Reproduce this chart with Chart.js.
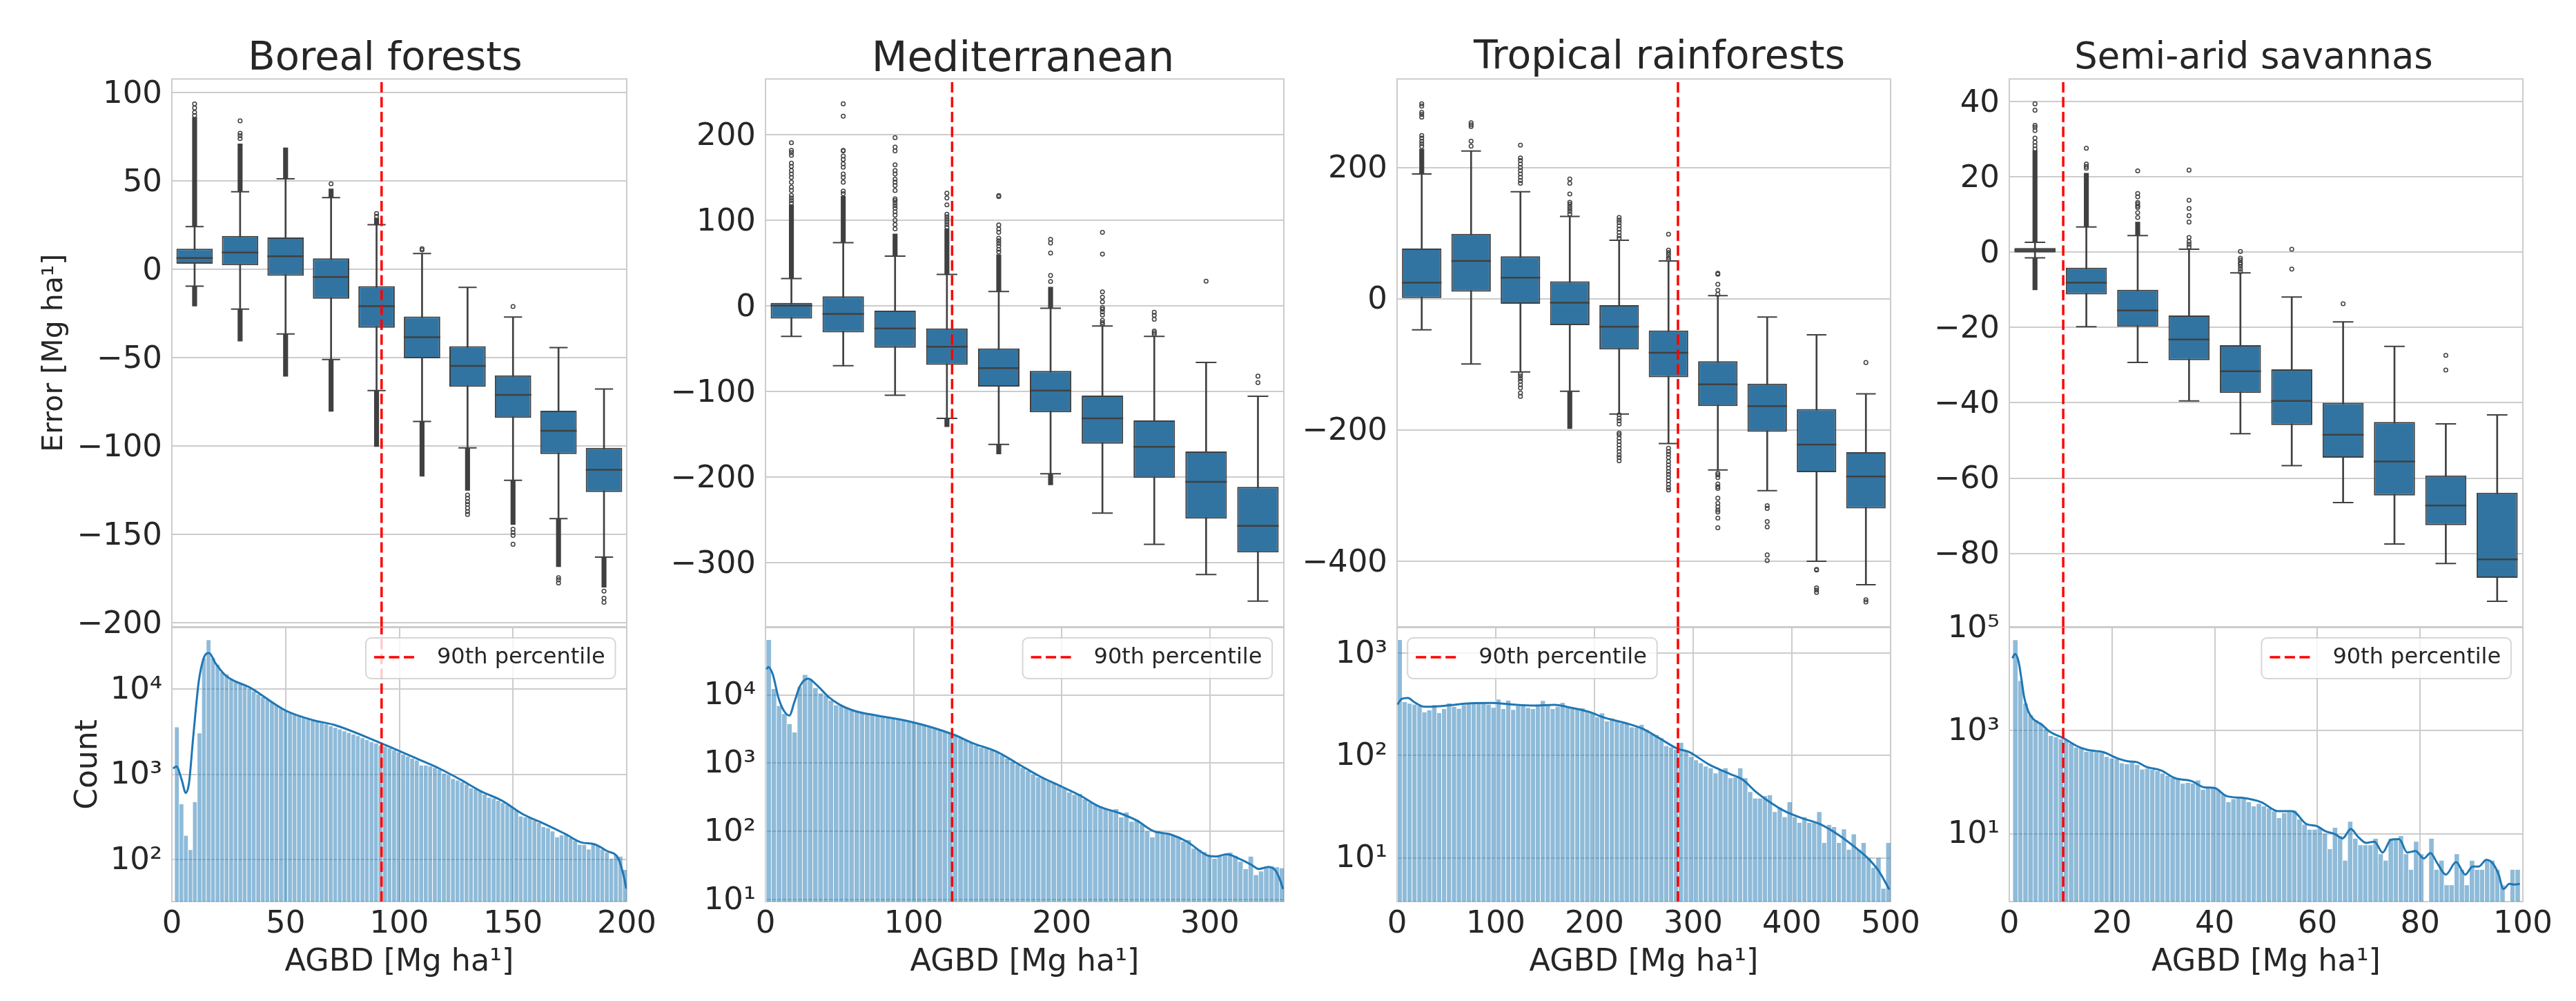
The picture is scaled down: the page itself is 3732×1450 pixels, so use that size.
<!DOCTYPE html>
<html>
<head>
<meta charset="utf-8">
<title>AGBD error by biome</title>
<script src="https://cdn.jsdelivr.net/npm/chart.js@4"></script>
<style>
  html, body { margin: 0; padding: 0; background: #fff; }
  body { position: relative; width: 3732px; height: 1450px; overflow: hidden; }
  canvas { position: absolute; }
  .panel-title { position: absolute; transform: translateX(-50%); white-space: nowrap; line-height: 1; font-family: "DejaVu Sans"; color: #262626; }
</style>
</head>
<body>
<script>
const biomes = ['Boreal forests', 'Mediterranean', 'Tropical rainforests', 'Semi-arid savannas'];
const boxLabels = ['b0', 'b1', 'b2', 'b3', 'b4', 'b5', 'b6', 'b7', 'b8', 'b9'];
const percentile90 = [92.2, 126, 284.6, 10.5];
const agbdMax = [200, 350, 500, 100];

// box statistics
const borealLow = [-9.5, -22.5, -36.5, -51, -68.6, -86, -101, -119.3, -141, -162.8];
const borealQ1 = [3.2, 2.3, -3.6, -16.6, -33, -50.3, -66.4, -84, -104.5, -126];
const borealMedian = [6.4, 9.5, 7.4, -4.3, -20.8, -38.4, -54.6, -71, -91.3, -113.4];
const borealQ3 = [11.7, 18.9, 18, 6.2, -9.5, -26.7, -43.5, -60, -80, -101];
const borealHigh = [24.2, 43.9, 51.2, 40.6, 25.3, 9, -10.2, -27, -44.2, -67.7];
const borealDenseUp = [[24.2, 86], [44, 71], [51.2, 68.8], [40.6, 45.5], [25.3, 28.8], null, null, null, null, null];
const borealDenseDown = [[-20.8, -9.5], [-40.6, -22.5], [-60.5, -36.5], [-80.3, -51], [-100.2, -68.6], [-117, -86], [-125, -101], [-144.4, -119.3], [-168.2, -141], [-179.8, -162.8]];
const borealOutliers = [
  [93.6, 91.3, 88.8, 87],
  [84, 77, 75.6, 74],
  [],
  [48.4],
  [31.6, 30],
  [11.7, 11],
  [-127.6, -129.5, -131.4, -133, -135, -137, -138.6],
  [-21, -147, -148.8, -150.5, -155.5],
  [-174.4, -175.6, -177.4],
  [-182, -186, -188.3]
];

const medLow = [-35.5, -69.9, -104.3, -131.3, -161.7, -196, -241.8, -278.3, -313.7, -344.7];
const medQ1 = [-14.8, -30.9, -48.8, -68.8, -94.1, -124.2, -160.9, -200.8, -248.4, -287.8];
const medMedian = [0.4, -9.4, -26.2, -47.7, -72.7, -98.8, -131.3, -164.5, -205.5, -256.8];
const medQ3 = [3.5, 11.3, -5.5, -26.2, -49.6, -75.8, -104.7, -133.6, -170, -211.3];
const medHigh = [32, 73.8, 58.2, 36.7, 16.8, -2.7, -23.4, -35.5, -66, -105.5];
const medDenseUp = [[32, 118], [74, 128], [58, 84], [37, 90], [17, 60], [-2.7, 22], null, null, null, null];
const medDenseDown = [null, null, null, [-141, -131], [-173, -162], [-209, -196], null, null, null, null];
const medOutliers = [
  [190.6, 181.6, 179, 175.8, 166.8, 163, 158, 154, 150, 144.5, 138.7, 134.8, 129, 126, 123, 120],
  [236, 221.5, 181.6, 181, 175, 171, 166, 162, 154, 150, 144.5, 134, 131],
  [196.5, 185.5, 181, 164.8, 158, 154, 148, 144.5, 140.6, 134.8, 125, 123, 120, 117, 114, 110, 106, 100, 95, 90],
  [131.6, 126, 118, 107, 104, 101, 98, 95, 92],
  [128.9, 127.7, 94.5, 89.8, 85.9, 79, 76, 73, 70, 66, 63],
  [77.7, 73.4, 61.7, 35.5, 28.5],
  [85.9, 60.5, 16.4, 10.2, 4.7, -2, -3.9, -7, -10.5, -16.8, -19.5, -21.5],
  [-7.4, -10.9, -15.6, -29.3, -31.3, -33.2],
  [28.9],
  [-82, -89.5]
];

const tropLow = [-47.4, -99.4, -111.6, -141, -175.8, -220.6, -260.9, -292.5, -400, -435.8];
const tropQ1 = [0, 10.7, -7.6, -40.3, -77.5, -119.7, -163.6, -202.8, -264.5, -319.5];
const tropMedian = [24.5, 57.6, 32, -6.1, -42.8, -82.5, -130.4, -163.6, -222.2, -271];
const tropQ3 = [76.4, 98.9, 64.7, 26.5, -9.7, -48.4, -95.3, -129.4, -168, -233.9];
const tropHigh = [190, 225, 163, 125.4, 89.2, 57.6, 4.6, -28, -55, -145];
const tropDenseUp = [[190, 228], null, null, null, null, null, null, null, null, null];
const tropDenseDown = [null, null, null, [-198, -141], null, null, null, null, null, null];
const tropOutliers = [
  [297, 293.5, 284, 280.8, 276.7, 248.7, 244.6, 240, 236, 232],
  [268, 265, 262.4, 240, 232.4],
  [234, 214.5, 210.4, 205, 200, 195, 190, 185, 180, 175.8, -114.6, -118, -121.8, -125.9, -131, -136, -143.7, -148.8],
  [182.4, 175.8, 159.5, 147, 144, 140, 136.6, 133, 129],
  [123.8, 119.7, 116, 111, 106, 101, 95.8, 92, -176.8, -182, -186, -191, -204.8, -207.4, -212.5, -217.6, -222.7, -227.8, -232.9, -238, -242, -247],
  [98.3, 73.9, 70.3, 66.8, 62.7, 59.6, -227.8, -232.9, -237, -242, -248, -253, -258, -263.4, -267.5, -272.6, -277.7, -282.8, -287.9, -291.5],
  [38.7, 37.2, 21.9, 12.7, 6.6, -266, -268.5, -272.6, -282.3, -286.4, -289, -304, -311.8, -317, -322, -325, -334.4, -349],
  [-315.4, -319.5, -339.7, -347.8, -390.5, -399],
  [-412.4, -413.5, -440.6, -444, -447.7],
  [-97.3, -458.7, -462]
];

const savLow = [-1.5, -19.8, -29.3, -39.5, -48.2, -56.7, -66.5, -77.5, -82.7, -92.7];
const savQ1 = [-0.1, -11.2, -19.8, -28.7, -37.4, -45.9, -54.6, -64.6, -72.5, -86.5];
const savMedian = [0.5, -8.1, -15.5, -23.2, -31.6, -39.5, -48.5, -55.6, -67.3, -81.6];
const savQ3 = [1.1, -4.1, -10, -16.8, -24.7, -31.1, -40, -45.1, -59.3, -63.9];
const savHigh = [2.6, 6.7, 4.4, 0.8, -5.5, -11.9, -18.5, -25, -45.6, -43.2];
const savDenseUp = [[2.6, 27], [6.7, 21], [4.4, 8], null, null, null, null, null, null, null];
const savDenseDown = [[-10, -1.5], null, null, null, null, null, null, null, null, null];
const savOutliers = [
  [39.4, 37.7, 33.7, 33.2, 32.3, 30.3, 29.2, 28.3, 27.4],
  [27.6, 23.4, 22.8, 22.3],
  [21.6, 15.6, 14.7, 13.2, 12.8, 12.3, 11.9, 10.5, 9.2],
  [21.8, 13.8, 11.6, 9.7, 8, 3.9, 2.8, 2.1, 1.4],
  [0.2, -1.6, -2.1, -2.8, -3.2, -3.8, -4.5, -5.2],
  [0.8, -4.5],
  [-13.7],
  [],
  [-27.4, -31.3],
  []
];

// histogram counts per bin, lower panels
const borealCounts = [3580, 445, 190, 129, 472, 3030, 23200, 37800, 23200, 19500,
  15800, 14900, 13300, 12500, 11500, 10800, 10100, 9430, 8730, 8090,
  7560, 7060, 6490, 5960, 5570, 5250, 5030, 4820, 4620, 4430,
  4280, 4140, 4000, 3870, 3670, 3520, 3380, 3210, 3080, 2950,
  2810, 2660, 2530, 2400, 2310, 2190, 2120, 2030, 1930, 1820,
  1710, 1620, 1530, 1460, 1270, 1270, 1240, 1190, 1140, 1020,
  980, 885, 848, 805, 759, 685, 668, 630, 578, 532,
  519, 489, 460, 437, 412, 378, 320, 312, 306, 286,
  268, 241, 233, 214, 181, 192, 200, 178, 166, 149,
  148, 131, 149, 143, 131, 121, 102, 113, 108, 75.5];
const medCounts = [63500, 12200, 6900, 5250, 3740, 2820, 13000, 19700, 16800, 12600,
  10500, 9690, 8270, 7060, 6900, 6490, 6030, 5720, 5420, 5250,
  5140, 5030, 4820, 4720, 4530, 4390, 4250, 4070, 3950, 3830,
  3550, 3370, 3230, 3100, 2880, 2730, 2560, 2330, 2160, 1990,
  1820, 1690, 1640, 1540, 1450, 1300, 1170, 1050, 949, 853,
  767, 690, 622, 603, 548, 514, 462, 429, 374, 345,
  355, 297, 267, 245, 233, 212, 205, 212, 161, 190,
  139, 149, 127, 101, 82, 101, 93, 91, 88, 82,
  71, 75, 56, 54, 50, 43, 40, 44, 45, 49,
  44, 36, 28, 43, 23, 26, 30, 31, 30, 29];
const tropCounts = [1345, 333, 321, 315, 306, 265, 277, 311, 260, 285,
  324, 299, 287, 311, 319, 321, 321, 321, 315, 293,
  352, 285, 345, 279, 306, 306, 293, 285, 315, 342,
  315, 285, 299, 328, 293, 285, 285, 289, 269, 260,
  237, 258, 215, 231, 215, 206, 203, 189, 187, 200,
  179, 162, 159, 148, 124, 120, 114, 133, 111, 97,
  90, 84, 78, 75, 67, 72, 75, 60, 61, 75,
  60, 44, 38, 38, 40, 41, 28, 31, 25, 35,
  25, 22, 25, 22, 22, 28, 14, 21, 20, 14,
  19, 12, 17, 12, 14, 10, 8, 10, 5, 14];
const savCounts = [57100, 9260, 3380, 1990, 1590, 1340, 1090, 789, 745, 685,
  648, 563, 470, 470, 392, 392, 381, 370, 309, 288,
  280, 233, 224, 240, 217, 176, 184, 174, 164, 147,
  133, 121, 111, 94, 97, 94, 108, 71, 79, 79,
  71, 58, 41, 47, 48, 49, 41, 34, 38, 34,
  31, 27, 20, 25, 26, 28, 19, 15, 12, 12,
  13, 10, 5, 13, 9, 3, 17, 8, 6, 6,
  6, 8, 4, 3, 8, 8, 9, 4, 2, 7,
  4, null, 8, 2, 3, 1, 1, 4, 2, 1,
  3, 2, 2, 3, 3, 2, 1, null, 2, 2];
const binStart = [1.1, 0.3, 0, 0.64];
const binWidth = [1.99, 3.5, 5, 0.988];

// density curves, sampled by eye along the drawn line
const borealKdeX = [0.55, 2, 4.4, 6.1, 7.5, 9.4, 11.8, 14, 16.4, 19.1, 23.7, 34.8, 50, 62.4, 71.6, 92.2, 108.4, 117.6, 126.8, 136, 145.2, 154.4, 163.6, 172.8, 180.1, 185.6, 191.2, 196.3, 198.5, 199.8];
const borealKdeY = [1170, 1240, 848, 604, 778, 2780, 12200, 23200, 26700, 20400, 14500, 10300, 5620, 4310, 3800, 2310, 1500, 1170, 869, 630, 489, 339, 263, 200, 158, 151, 126, 102, 66.5, 45.4];
const medKdeX = [0.6, 2, 4.8, 9, 12.7, 16.1, 19.5, 23.2, 28.8, 34.5, 42.9, 50, 61.3, 75.4, 100, 126, 140.4, 155.9, 171.5, 185.6, 200, 212.4, 225.1, 239.3, 250.6, 262, 273.2, 284.5, 298.6, 304.2, 311.3, 319.8, 328.3, 333.1, 339.6, 344.4, 347.2, 349.5];
const medKdeY = [23800, 25600, 20300, 8710, 5720, 4980, 7830, 13300, 17300, 14000, 9190, 7210, 5720, 4980, 3950, 2670, 1950, 1480, 949, 635, 453, 337, 233, 185, 145, 101, 91, 71.2, 44.4, 43, 46.2, 39.9, 32.3, 28.2, 30.3, 26.7, 20.1, 14.3];
const tropKdeX = [0.4, 4.7, 11, 17.4, 28, 38.6, 53.4, 74.6, 95.8, 117, 138.3, 159.5, 176.4, 193.4, 210.3, 231.6, 248.5, 265.5, 284.6, 295.2, 316.4, 337.6, 350.3, 363, 375.7, 392.7, 409.7, 428.7, 447.8, 464.8, 477.5, 488.1, 498.7];
const tropKdeY = [315, 357, 365, 333, 299, 301, 310, 324, 326, 315, 308, 313, 293, 269, 234, 207, 183, 148, 116, 109, 81.3, 65.8, 57.9, 44.6, 36.1, 28.6, 24.5, 21.3, 16.6, 12.5, 9.8, 7.4, 4.9];
const savKdeX = [0.6, 1.1, 1.8, 2.3, 2.9, 3.7, 4.7, 6.3, 7.9, 10.5, 13.1, 15.1, 18.3, 21.1, 23.1, 24.9, 26.7, 29.5, 32.3, 35.5, 37.9, 39.9, 42.3, 45.5, 49.1, 52.3, 55.1, 57.9, 59.9, 61.5, 63.5, 64.9, 66.5, 67.9, 69.5, 71.1, 72.7, 74.3, 75.9, 77.5, 79.1, 80.7, 82, 83.4, 85, 87, 88.8, 90.2, 91.4, 92.9, 94.2, 95.3, 96.2, 97.4, 98.2, 99.4];
const savKdeY = [25400, 30800, 22000, 11000, 4400, 2350, 1660, 1310, 946, 715, 504, 425, 381, 288, 254, 243, 197, 169, 119, 105, 79.4, 77.3, 53.6, 49.3, 40.6, 27.4, 27.4, 15.2, 14, 11.2, 9.7, 8.1, 12.3, 8.7, 6.6, 7, 4.3, 7.6, 7.8, 4.3, 4.6, 3.3, 4.2, 2.6, 1.6, 2.8, 1.6, 2.3, 2.3, 3.1, 2.6, 1.6, 0.84, 1.06, 1.03, 1.06];

// tick labels and axis ranges
const errorTicks = [[100, 50, 0, -50, -100, -150, -200], [200, 100, 0, -100, -200, -300], [200, 0, -200, -400], [40, 20, 0, -20, -40, -60, -80]];
const errorMin = [-202.2, -374.7, -500, -99.5];
const errorMax = [107.7, 265, 334.8, 46];
const agbdTicks = [[0, 50, 100, 150, 200], [0, 100, 200, 300], [0, 100, 200, 300, 400, 500], [0, 20, 40, 60, 80, 100]];
const countTicks = [[100, 1000, 10000], [10, 100, 1000, 10000], [10, 100, 1000], [10, 1000, 100000]];
const countTickLabels = [['10²', '10³', '10⁴'], ['10¹', '10²', '10³', '10⁴'], ['10¹', '10²', '10³'], ['10¹', '10³', '10⁵']];
const countMin = [31.9, 9.4, 3.73, 0.48];
const countMax = [53200, 96800, 1782, 100000];

const panelStats = [
  [borealLow, borealQ1, borealMedian, borealQ3, borealHigh, borealDenseUp, borealDenseDown, borealOutliers, borealCounts, borealKdeX, borealKdeY],
  [medLow, medQ1, medMedian, medQ3, medHigh, medDenseUp, medDenseDown, medOutliers, medCounts, medKdeX, medKdeY],
  [tropLow, tropQ1, tropMedian, tropQ3, tropHigh, tropDenseUp, tropDenseDown, tropOutliers, tropCounts, tropKdeX, tropKdeY],
  [savLow, savQ1, savMedian, savQ3, savHigh, savDenseUp, savDenseDown, savOutliers, savCounts, savKdeX, savKdeY]
];

// page layout, in screen pixels
const plotLeft = [249, 1109.4, 2023.6, 2910.6];
const plotRight = [907.6, 1860, 2738, 3654];
const plotTop = 114.4;
const plotSplit = 908.5;
const plotBottom = 1305;
const titleCentre = [558, 1482, 2404, 3265];
const titleSize = [57.5, 60, 56.8, 52.7];
const titleBaseline = [101.8, 102.8, 99.4, 99.4];
const legendLeft = [530, 1482, 2038.8, 3276];

const INK = '#262626';
const GRID = '#cccccc';
const BOX_BLUE = '#3274a1';
const BOX_LINE = '#404040';
const TICK_SIZE = 45;

Chart.defaults.font.family = '"DejaVu Sans"';
Chart.defaults.color = INK;
Chart.defaults.animation = false;

// the four spines, Chart.js only strokes the axis side
const framePlugin = {
  id: 'frame',
  beforeDatasetsDraw(chart) {
    const { ctx, chartArea: a } = chart;
    ctx.save();
    ctx.strokeStyle = GRID;
    ctx.lineWidth = 2;
    ctx.strokeRect(a.left, a.top, a.right - a.left, a.bottom - a.top);
    ctx.restore();
  }
};

// legend sitting inside the axes, as the stock one cannot
const insetLegend = {
  id: 'insetLegend',
  afterDraw(chart, args, opts) {
    const { ctx, chartArea: a } = chart;
    const x = a.left + opts.offset;
    const y = a.top + 15;
    const item = chart.data.datasets[0];
    ctx.save();
    ctx.beginPath();
    ctx.roundRect(x, y, 361.5, 59, 8);
    ctx.fillStyle = 'rgba(255,255,255,0.8)';
    ctx.fill();
    ctx.strokeStyle = 'rgba(204,204,204,0.8)';
    ctx.lineWidth = 2;
    ctx.stroke();
    ctx.beginPath();
    ctx.setLineDash(item.borderDash);
    ctx.strokeStyle = item.borderColor;
    ctx.lineWidth = item.borderWidth;
    ctx.moveTo(x + 12, y + 28);
    ctx.lineTo(x + 76, y + 28);
    ctx.stroke();
    ctx.setLineDash([]);
    ctx.fillStyle = INK;
    ctx.font = '32px "DejaVu Sans"';
    ctx.textBaseline = 'middle';
    ctx.fillText(item.label, x + 103, y + 29);
    ctx.restore();
  }
};

function addCanvas(left, top, width, height) {
  const canvas = document.createElement('canvas');
  canvas.width = width;
  canvas.height = height;
  canvas.style.left = left + 'px';
  canvas.style.top = top + 'px';
  canvas.style.width = width + 'px';
  canvas.style.height = height + 'px';
  document.body.appendChild(canvas);
  return canvas;
}

function minusTick(value) {
  return String(value).replace('-', '\u2212');
}

function redLine(p, yMin, yMax) {
  return {
    type: 'line',
    label: '90th percentile',
    xAxisID: 'agbd',
    data: [{ x: percentile90[p], y: yMin }, { x: percentile90[p], y: yMax }],
    borderColor: '#ff0000',
    borderWidth: 3.5,
    borderDash: [15, 6.5],
    pointRadius: 0
  };
}

function drawBoxPanel(p) {
  const [low, q1, median, q3, high, denseUp, denseDown, outliers] = panelStats[p];
  const axisWidth = p === 0 ? plotLeft[0] : 200;
  const plotWidth = plotRight[p] - plotLeft[p];
  const boxHalf = plotWidth * 0.04;
  const canvas = addCanvas(plotLeft[p] - axisWidth, 0, Math.ceil(axisWidth + plotWidth + 60), Math.ceil(plotSplit + 40));

  const outlierPoints = [];
  outliers.forEach((values, i) => values.forEach((v) => outlierPoints.push({ x: boxLabels[i], y: v })));
  const markLine = (values, radius, width) => ({
    type: 'line',
    data: values,
    showLine: false,
    pointStyle: 'line',
    pointRadius: radius,
    pointBorderWidth: width,
    pointBorderColor: BOX_LINE
  });
  const solidBar = (values, thickness) => ({
    data: values,
    barThickness: thickness,
    backgroundColor: BOX_LINE,
    borderWidth: 0
  });

  return new Chart(canvas, {
    type: 'bar',
    data: {
      labels: boxLabels,
      datasets: [
        redLine(p, errorMin[p], errorMax[p]),
        markLine(median, boxHalf, 2.5),
        {
          data: boxLabels.map((_, i) => [q1[i], q3[i]]),
          backgroundColor: BOX_BLUE,
          borderColor: BOX_LINE,
          borderWidth: 2,
          borderSkipped: false,
          barPercentage: 0.8,
          categoryPercentage: 1
        },
        markLine(low, boxHalf / 2, 2),
        markLine(high, boxHalf / 2, 2),
        solidBar(boxLabels.map((_, i) => [low[i], high[i]]), 2),
        solidBar(denseUp, 6.5),
        solidBar(denseDown, 6.5),
        {
          type: 'line',
          data: outlierPoints,
          showLine: false,
          pointStyle: 'circle',
          pointRadius: 2.8,
          pointBorderWidth: 1.5,
          pointBorderColor: BOX_LINE,
          pointBackgroundColor: 'rgba(255,255,255,0)'
        }
      ]
    },
    options: {
      responsive: false,
      layout: { padding: { top: plotTop, bottom: canvas.height - plotSplit, right: 60, left: 0 } },
      datasets: { bar: { grouped: false } },
      plugins: { legend: { display: false }, tooltip: { enabled: false } },
      scales: {
        x: { type: 'category', display: false, offset: true },
        agbd: { type: 'linear', display: false, offset: false, min: 0, max: agbdMax[p], position: 'bottom' },
        y: {
          min: errorMin[p],
          max: errorMax[p],
          afterBuildTicks: (axis) => { axis.ticks = errorTicks[p].map((value) => ({ value })); },
          afterFit: (axis) => { axis.width = axisWidth; },
          ticks: { callback: minusTick, font: { size: TICK_SIZE }, color: INK, padding: 14, labelOffset: 3, autoSkip: false },
          grid: { color: GRID, lineWidth: 2, drawTicks: false },
          border: { display: false },
          title: { display: p === 0, text: 'Error [Mg ha¹]', font: { size: 41 }, color: INK, padding: { top: 55, bottom: 0 } }
        }
      }
    },
    plugins: [framePlugin]
  });
}

function drawHistPanel(p) {
  const stats = panelStats[p];
  const counts = stats[8];
  const axisWidth = p === 0 ? plotLeft[0] : 200;
  const plotWidth = plotRight[p] - plotLeft[p];
  const top = plotSplit - 50;
  const canvas = addCanvas(plotLeft[p] - axisWidth, top, Math.ceil(axisWidth + plotWidth + 60), Math.ceil(1450 - top));

  return new Chart(canvas, {
    type: 'bar',
    data: {
      datasets: [
        redLine(p, countMin[p], countMax[p]),
        {
          type: 'line',
          xAxisID: 'agbd',
          data: stats[9].map((x, i) => ({ x, y: stats[10][i] })),
          borderColor: '#1f77b4',
          borderWidth: 3,
          cubicInterpolationMode: 'monotone',
          pointRadius: 0
        },
        {
          xAxisID: 'agbd',
          data: counts.map((y, i) => ({ x: binStart[p] + binWidth[p] * (i + 0.5), y })),
          backgroundColor: 'rgba(31,119,180,0.5)',
          borderColor: '#ffffff',
          borderWidth: { left: 1, right: 0, top: 0, bottom: 0 },
          barPercentage: 1,
          categoryPercentage: 1
        }
      ]
    },
    options: {
      responsive: false,
      layout: { padding: { top: 50, bottom: 0, right: 60, left: 0 } },
      datasets: { bar: { grouped: false } },
      plugins: {
        legend: { display: false },
        tooltip: { enabled: false },
        insetLegend: { offset: legendLeft[p] - plotLeft[p] }
      },
      scales: {
        agbd: {
          type: 'linear',
          position: 'bottom',
          offset: false,
          min: 0,
          max: agbdMax[p],
          afterBuildTicks: (axis) => { axis.ticks = agbdTicks[p].map((value) => ({ value })); },
          afterFit: (axis) => { axis.height = 1450 - plotBottom; },
          ticks: { font: { size: TICK_SIZE }, color: INK, padding: 6, maxRotation: 0, autoSkip: false },
          grid: { color: GRID, lineWidth: 2, drawTicks: false, offset: false },
          border: { display: false },
          title: { display: true, text: 'AGBD [Mg ha¹]', font: { size: 44.5 }, color: INK, padding: { top: 0, bottom: 30 } }
        },
        y: {
          type: 'logarithmic',
          min: countMin[p],
          max: countMax[p],
          afterBuildTicks: (axis) => { axis.ticks = countTicks[p].map((value) => ({ value })); },
          afterFit: (axis) => { axis.width = axisWidth; },
          ticks: {
            callback: (value) => countTickLabels[p][countTicks[p].indexOf(value)],
            font: { size: TICK_SIZE },
            color: INK,
            padding: 14,
            labelOffset: 2,
            autoSkip: false
          },
          grid: { color: GRID, lineWidth: 2, drawTicks: false },
          border: { display: false },
          title: { display: p === 0, text: 'Count', font: { size: 44 }, color: INK, padding: { top: 102, bottom: 0 } }
        }
      }
    },
    plugins: [framePlugin, insetLegend]
  });
}

biomes.forEach((name, p) => {
  drawHistPanel(p);
  drawBoxPanel(p);
  const title = document.createElement('div');
  title.className = 'panel-title';
  title.textContent = name;
  title.style.left = titleCentre[p] + 'px';
  title.style.top = (titleBaseline[p] - 0.846 * titleSize[p]) + 'px';
  title.style.fontSize = titleSize[p] + 'px';
  document.body.appendChild(title);
});
</script>
</body>
</html>
